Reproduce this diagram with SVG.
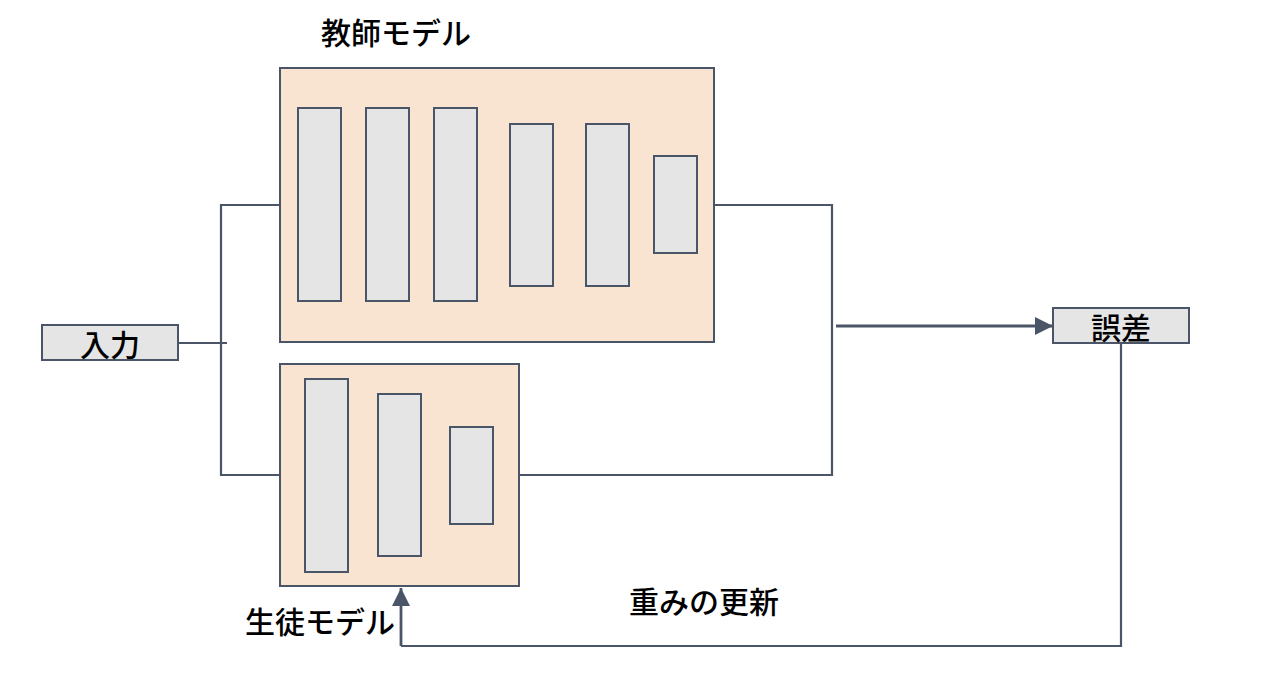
<svg xmlns="http://www.w3.org/2000/svg" width="1272" height="700" viewBox="0 0 1272 700">
<style>
.ln{fill:none;stroke:#4b5568;stroke-width:2.2}
.arr{fill:none;stroke:#4b5568;stroke-width:2.8}
.model{fill:#f8e4d0;stroke:#4b5568;stroke-width:2}
.layer{fill:#e5e5e5;stroke:#4b5568;stroke-width:2}
.box{fill:#e5e5e5;stroke:#4b5568;stroke-width:2}
.t{font-family:"Noto Sans CJK JP","Noto Sans",sans-serif;font-size:30px;font-weight:500;fill:#000}
</style>
<defs>
<marker id="ah" markerUnits="userSpaceOnUse" markerWidth="18" markerHeight="18" refX="18" refY="9" orient="auto">
<path d="M0,0 L18,9 L0,18 Z" fill="#4b5568"/>
</marker>
</defs>
<rect x="0" y="0" width="1272" height="700" fill="#fff"/>
<g id="connectors">
<path class="ln" d="M178,343 L227,343"/>
<path class="ln" d="M280,205 L221,205 L221,475 L280,475"/>
<path class="ln" d="M714,205 L832,205 L832,475 L519,475"/>
<path class="arr" d="M836,326 L1053,326" marker-end="url(#ah)"/>
<path class="ln" d="M1121,343 L1121,646 L401,646"/>
<path class="arr" d="M401,646 L401,588" marker-end="url(#ah)"/>
</g>
<g id="teacher">
<rect class="model" x="280" y="68" width="434" height="274"/>
<rect class="layer" x="298" y="108" width="43" height="193"/>
<rect class="layer" x="366" y="108" width="43" height="193"/>
<rect class="layer" x="434" y="108" width="43" height="193"/>
<rect class="layer" x="510" y="124" width="43" height="162"/>
<rect class="layer" x="586" y="124" width="43" height="162"/>
<rect class="layer" x="654" y="156" width="43" height="97"/>
<text class="t" x="396" y="44" text-anchor="middle">教師モデル</text>
</g>
<g id="student">
<rect class="model" x="280" y="364" width="239" height="222"/>
<rect class="layer" x="305" y="379" width="43" height="193"/>
<rect class="layer" x="378" y="394" width="43" height="162"/>
<rect class="layer" x="450" y="427" width="43" height="97"/>
<text class="t" x="320" y="633" text-anchor="middle">生徒モデル</text>
</g>
<g id="input">
<rect class="box" x="42" y="325" width="136" height="35"/>
<text class="t" x="110" y="356" text-anchor="middle">入力</text>
</g>
<g id="error">
<rect class="box" x="1053" y="308" width="136" height="35"/>
<text class="t" x="1121" y="339" text-anchor="middle">誤差</text>
</g>
<g id="update-label">
<text class="t" x="704" y="613" text-anchor="middle">重みの更新</text>
</g>
</svg>
